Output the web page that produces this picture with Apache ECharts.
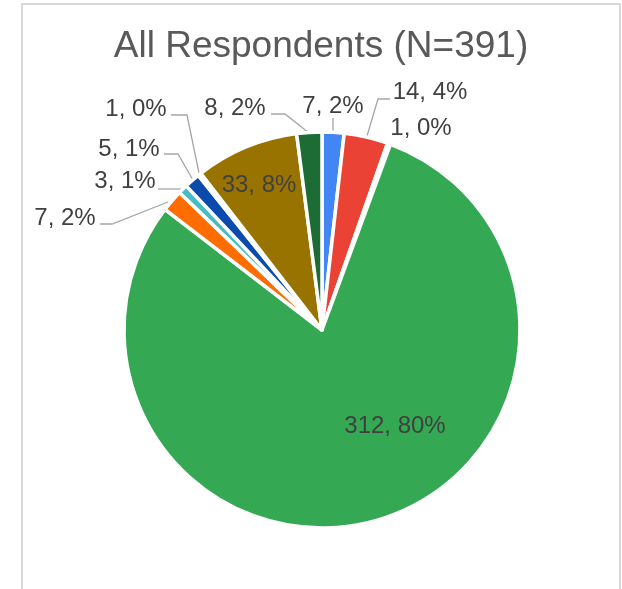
<!DOCTYPE html>
<html>
<head>
<meta charset="utf-8">
<script src="https://cdn.jsdelivr.net/npm/echarts@6/dist/echarts.min.js"></script>
<style>
html,body{margin:0;padding:0;background:#fff;}
#chart{width:622px;height:589px;}
</style>
</head>
<body>
<div id="chart"></div>
<script>
// ---- data ----
var titleText = 'All Respondents (N=391)';
var categories = ['A', 'B', 'C', 'D', 'E', 'F', 'G', 'H', 'I', 'J'];
var values = [7, 14, 1, 312, 7, 3, 5, 1, 33, 8];
var percentLabels = ['2%', '4%', '0%', '80%', '2%', '1%', '1%', '0%', '8%', '2%'];

// ---- styles / layout (kept apart from data) ----
var colors = ['#4285F4', '#EA4335', '#FBBC04', '#34A853', '#FF6D01', '#46BDC6', '#0B4BAD', '#7F3F98', '#997300', '#1D6B35'];
var showLine = [true, true, false, false, true, true, true, true, false, true];
var labelPos = [
  [333, 106], [430, 92], [421, 128], [395, 426], [65, 218],
  [125, 181], [129, 149], [136, 109], [259, 185], [235, 108]
];
var leaderPts = [
  [[333, 133], [333, 118]],
  [[367, 136], [378, 99], [390, 99]],
  null,
  null,
  [[168, 202], [112, 224], [100, 224]],
  [[183, 189], [170, 189], [158, 189]],
  [[193, 180], [178, 154], [164, 154]],
  [[199, 173], [187, 115], [171, 115]],
  null,
  [[309, 133], [285, 114], [271, 114]]
];

var data = categories.map(function (c, i) {
  return {
    name: c,
    value: values[i],
    itemStyle: { color: colors[i] },
    labelLine: { show: showLine[i] }
  };
});

var chart = echarts.init(document.getElementById('chart'), null, { renderer: 'canvas' });
chart.setOption({
  animation: false,
  backgroundColor: '#ffffff',
  graphic: [
    {
      type: 'rect', silent: true, z: -1,
      shape: { x: 22, y: 4, width: 598, height: 700 },
      style: { fill: 'none', stroke: '#d9d9d9', lineWidth: 2 }
    },
    {
      type: 'text', x: 321, y: 47,
      style: {
        text: titleText, align: 'center', verticalAlign: 'middle',
        font: '37px "Liberation Sans", Arial, sans-serif', fill: '#595959'
      }
    }
  ],
  series: [{
    type: 'pie',
    center: [322, 330],
    radius: 198,
    startAngle: 90,
    clockwise: true,
    avoidLabelOverlap: false,
    itemStyle: { borderColor: '#ffffff', borderWidth: 3.5 },
    label: {
      show: true,
      position: 'outside',
      formatter: function (p) { return p.value + ', ' + percentLabels[p.dataIndex]; },
      fontFamily: '"Liberation Sans", Arial, sans-serif',
      fontSize: 24,
      color: '#404040'
    },
    labelLine: {
      show: true,
      lineStyle: { color: '#a6a6a6', width: 1.3 }
    },
    labelLayout: function (params) {
      var i = params.dataIndex;
      var o = { x: labelPos[i][0], y: labelPos[i][1], align: 'center', verticalAlign: 'middle' };
      if (leaderPts[i]) { o.labelLinePoints = leaderPts[i]; }
      return o;
    },
    emphasis: { disabled: true },
    data: data
  }]
});
</script>
</body>
</html>
